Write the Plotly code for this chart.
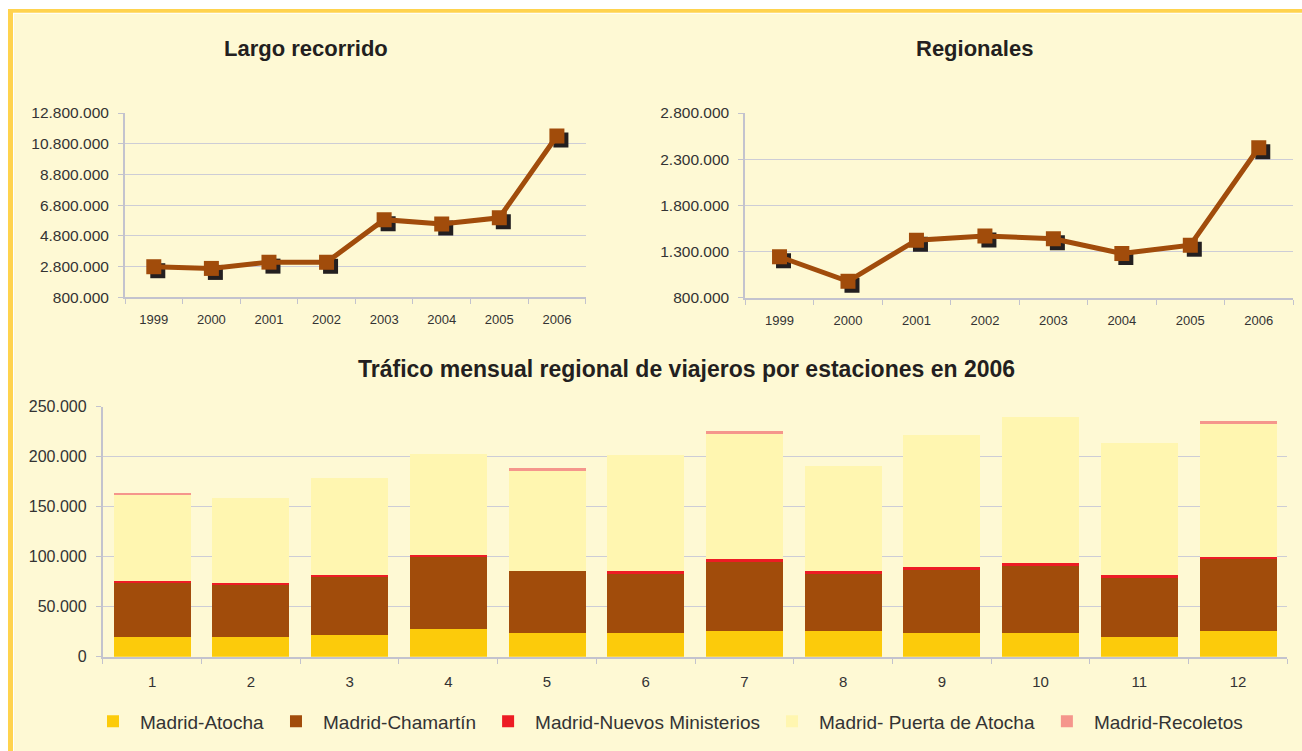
import math
import plotly.graph_objects as go

# ---------------- data ----------------
years = ["1999", "2000", "2001", "2002", "2003", "2004", "2005", "2006"]
largo_recorrido = [2780000, 2670000, 3080000, 3070000, 5850000, 5560000, 5970000, 11300000]
regionales = [1245000, 980000, 1425000, 1470000, 1440000, 1280000, 1370000, 2425000]

months = ["1", "2", "3", "4", "5", "6", "7", "8", "9", "10", "11", "12"]
madrid_atocha = [19300, 19300, 21300, 27300, 23300, 23300, 25300, 25300, 23300, 23300, 19300, 25300]
madrid_chamartin = [54700, 53000, 58700, 72700, 62000, 60300, 70300, 58300, 64300, 68300, 60300, 72300]
madrid_nuevos_ministerios = [1300, 1300, 1300, 1700, 0, 1700, 1700, 1700, 1700, 2000, 1700, 2000]
madrid_puerta_atocha = [86000, 84700, 97000, 100700, 100000, 117000, 126000, 105000, 133000, 146700, 133000, 133700]
madrid_recoletos = [2700, 0, 0, 0, 3000, 0, 3000, 0, 0, 0, 0, 3000]

series_names = ["Madrid-Atocha", "Madrid-Chamartín", "Madrid-Nuevos Ministerios",
                "Madrid- Puerta de Atocha", "Madrid-Recoletos"]
series_values = [madrid_atocha, madrid_chamartin, madrid_nuevos_ministerios,
                 madrid_puerta_atocha, madrid_recoletos]
series_colors = ["#FCCB0B", "#A14C0B", "#ED1C24", "#FFF6B0", "#F5968C"]

# ---------------- style ----------------
W = 1302
# vertical compensation for the capture (page y -> picture y = SC*y + OFF)
SC, OFF = 0.977, 9.2
H = int(math.ceil((751 - OFF) / SC)) + 1
BG = "#FEF9D4"
BROWN = "#A14C0B"
SHADOW = "#231F20"
GRID = "#CDCDD6"
AXIS = "#C3C3CE"
TXT = "#333333"
FONT = "Liberation Sans, Arial, sans-serif"


def fy(y):
    """target picture y (px from top) -> figure px from top"""
    return (y - OFF) / SC


def py(y):
    """target picture y -> paper y"""
    return 1 - fy(y) / H


def dx(p0, p1):
    return [p0 / W, p1 / W]


def dy(top, bottom):
    return [py(bottom), py(top)]


fig = go.Figure()

charts = [
    # (values, x px domain, y px domain, y range, dtick, axis ids)
    (largo_recorrido, (125, 585.7), (113.3, 297.5), (800000, 12800000), 2000000, ("", "2", "3")),
    (regionales, (745.3, 1293), (113.3, 298.3), (800000, 2800000), 500000, ("4", "5", "6")),
]
SH_PX = 4  # shadow offset in pixels

for vals, (xp0, xp1), (yt, yb), (ylo, yhi), dt, (a_base, a_sh, a_main) in charts:
    xdom, ydom = dx(xp0, xp1), dy(yt, yb)
    ncat = len(years)
    ux = ncat / (xp1 - xp0) * SH_PX
    uy = (yhi - ylo) / (yb - yt) * SH_PX
    xb, yb_ = "xaxis" + a_base, "yaxis" + a_base
    xs, ys = "xaxis" + a_sh, "yaxis" + a_sh
    xm, ym = "xaxis" + a_main, "yaxis" + a_main
    xref_b = "x" + a_base
    yref_b = "y" + a_base
    # base axes (grid, ticks, labels)
    fig.add_trace(go.Scatter(x=years, y=vals, mode="markers", marker=dict(opacity=0),
                             hoverinfo="skip", showlegend=False,
                             xaxis=xref_b, yaxis=yref_b))
    # shadow
    fig.add_trace(go.Scatter(x=years, y=vals, mode="markers",
                             marker=dict(symbol="square", size=15, color=SHADOW),
                             hoverinfo="skip", showlegend=False,
                             xaxis="x" + a_sh, yaxis="y" + a_sh))
    # main line
    fig.add_trace(go.Scatter(x=years, y=vals, mode="lines+markers",
                             line=dict(color=BROWN, width=5),
                             marker=dict(symbol="square", size=15, color=BROWN),
                             showlegend=False,
                             xaxis="x" + a_main, yaxis="y" + a_main))
    fig.update_layout(**{
        xb: dict(domain=xdom, anchor=yref_b, type="category", range=[-0.5, ncat - 0.5],
                 tickson="boundaries", ticks="outside", ticklen=5, tickcolor=AXIS,
                 showline=True, linecolor=AXIS, linewidth=2, showgrid=False,
                 tickfont=dict(size=13, color=TXT, family=FONT), ticklabelstandoff=9,
                 fixedrange=True),
        yb_: dict(domain=ydom, anchor=xref_b, range=[ylo, yhi], tick0=ylo, dtick=dt,
                  tickformat=",d", ticks="outside", ticklen=5, tickcolor=AXIS,
                  showline=True, linecolor=AXIS, linewidth=2, showgrid=True,
                  gridcolor=GRID, gridwidth=1, zeroline=False,
                  tickfont=dict(size=15.5, color=TXT, family=FONT), ticklabelstandoff=6),
        xs: dict(domain=xdom, overlaying=xref_b, anchor="y" + a_sh, type="category",
                 range=[-0.5 - ux, ncat - 0.5 - ux], visible=False),
        ys: dict(domain=ydom, overlaying=yref_b, anchor="x" + a_sh,
                 range=[ylo + uy, yhi + uy], visible=False),
        xm: dict(domain=xdom, overlaying=xref_b, anchor="y" + a_main, type="category",
                 range=[-0.5, ncat - 0.5], visible=False),
        ym: dict(domain=ydom, overlaying=yref_b, anchor="x" + a_main,
                 range=[ylo, yhi], visible=False),
    })

# bottom stacked bars
for name, vals, col in zip(series_names, series_values, series_colors):
    fig.add_trace(go.Bar(x=months, y=vals, name=name, marker=dict(color=col, line=dict(width=0)),
                         xaxis="x7", yaxis="y7"))

fig.update_layout(
    xaxis7=dict(domain=dx(102.8, 1287.4), anchor="y7", type="category",
                tickson="boundaries", ticks="outside", ticklen=5, tickcolor=AXIS,
                showline=True, linecolor=AXIS, linewidth=2, showgrid=False,
                tickfont=dict(size=15, color=TXT, family=FONT), ticklabelstandoff=10),
    yaxis7=dict(domain=dy(407.3, 657.3), anchor="x7", range=[0, 250000], dtick=50000,
                tickformat=",d", ticks="outside", ticklen=5, tickcolor=AXIS,
                showline=True, linecolor=AXIS, linewidth=2, showgrid=True,
                gridcolor=GRID, gridwidth=1, zeroline=False,
                tickfont=dict(size=16, color=TXT, family=FONT), ticklabelstandoff=6),
    barmode="stack",
    bargap=0.22,
)

# titles
titles = [
    ("Largo recorrido", 306, 49, 22),
    ("Regionales", 974, 49, 22),
    ("Tráfico mensual regional de viajeros por estaciones en 2006", 686, 369, 23),
]
annotations = []
for t, x, y, s in titles:
    annotations.append(dict(text="<b>%s</b>" % t, x=x / W, y=py(y), xref="paper", yref="paper",
                            xanchor="center", yanchor="middle", showarrow=False,
                            font=dict(size=s, color="#231F20", family=FONT)))

# frame
shapes = [
    dict(type="rect", xref="paper", yref="paper", x0=8 / W, x1=1.02, y0=-0.02, y1=min(1.0, py(8)),
         fillcolor="#FFD34E", line=dict(width=0), layer="below"),
    dict(type="rect", xref="paper", yref="paper", x0=13 / W, x1=1.02, y0=-0.02, y1=py(13),
         fillcolor="#FFFFFF", line=dict(width=0), layer="below"),
    dict(type="rect", xref="paper", yref="paper", x0=14 / W, x1=1.02, y0=-0.02, y1=py(14),
         fillcolor=BG, line=dict(width=0), layer="below"),
]

fig.update_layout(
    width=W, height=H, autosize=False,
    margin=dict(l=0, r=0, t=0, b=0),
    paper_bgcolor="#FFFFFF", plot_bgcolor="rgba(0,0,0,0)",
    separators=",.",
    font=dict(family=FONT, color=TXT),
    annotations=annotations, shapes=shapes,
    showlegend=True,
    legend=dict(orientation="h", x=86 / W, y=py(722), xanchor="left", yanchor="middle",
                traceorder="normal", bgcolor="rgba(0,0,0,0)", itemwidth=44,
                font=dict(size=19, color=TXT, family=FONT), itemclick=False),
    hovermode=False,
)

fig.write_html(
    "out.html",
    config={"displayModeBar": False, "responsive": False},
    post_script=(
        "document.documentElement.style.margin='0';"
        "document.documentElement.style.padding='0';"
        "document.documentElement.style.overflow='hidden';"
        "document.body.style.margin='0';"
        "document.body.style.padding='0';"
        "document.body.style.overflow='hidden';"
        "var gd=document.getElementById('{plot_id}');"
        "gd.style.position='fixed';gd.style.top='0px';gd.style.left='0px';"
    ),
)
